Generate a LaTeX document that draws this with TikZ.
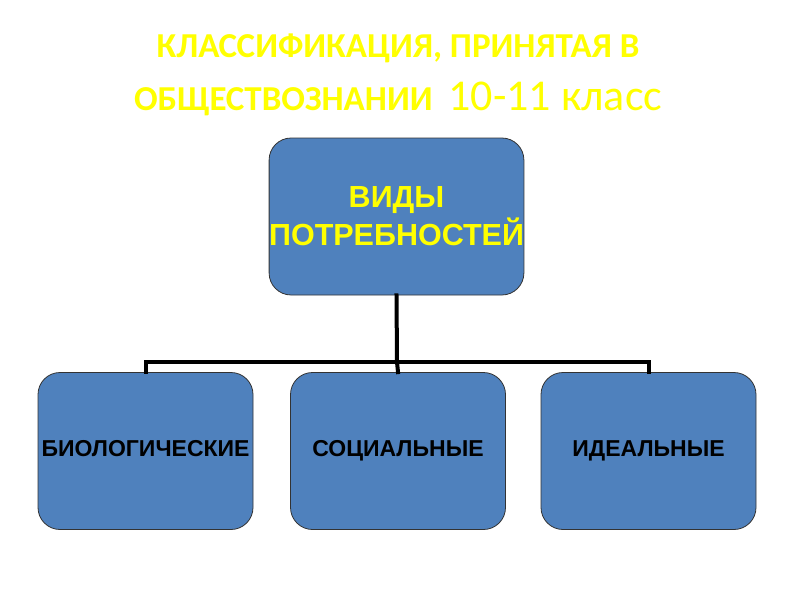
\documentclass[tikz,border=0pt]{standalone}
\usepackage{fontspec}
\setmainfont{Liberation Sans}
\newfontfamily\titlefont{Carlito}
\definecolor{boxblue}{HTML}{4F81BD}
\definecolor{ttl}{HTML}{FFFF00}
\begin{document}
\begin{tikzpicture}[x=1pt,y=-1pt,
  box/.style={draw=black!80,line width=0.8pt,fill=boxblue,rounded corners=22pt,minimum width=215pt,minimum height=157pt,inner sep=0pt,align=center},
  low/.style={font=\bfseries\fontsize{23}{26}\selectfont},
  conn/.style={line width=4pt,line cap=rect}]
\useasboundingbox (0,0) rectangle (800,600);
\node[text=ttl,font=\titlefont\bfseries\fontsize{35}{40}\selectfont] (t1) at (398,48) {КЛАССИФИКАЦИЯ, ПРИНЯТАЯ В};
\node[text=ttl,font=\titlefont\fontsize{35}{40}\selectfont] (t2) at (398,99) {\textbf{ОБЩЕСТВОЗНАНИИ}\ \ {\fontsize{44}{48}\selectfont 10-11 класс}};
\node[box,font=\bfseries\fontsize{30.5}{38}\selectfont,text=ttl] (top) at (396.5,216.5) {ВИДЫ\\ПОТРЕБНОСТЕЙ};
\node[box,low] (b1) at (145.5,451) {\strut БИОЛОГИЧЕСКИЕ};
\node[box,low] (b2) at (398,451) {\strut СОЦИАЛЬНЫЕ};
\node[box,low] (b3) at (648.5,451) {\strut ИДЕАЛЬНЫЕ};
\coordinate (j) at (397,362);
\draw[conn] (top.south) -- (j) -- (b2.north);
\draw[conn] (b1.north) -- (b1.north |- j) -- (b3.north |- j) -- (b3.north);
\end{tikzpicture}
\end{document}
